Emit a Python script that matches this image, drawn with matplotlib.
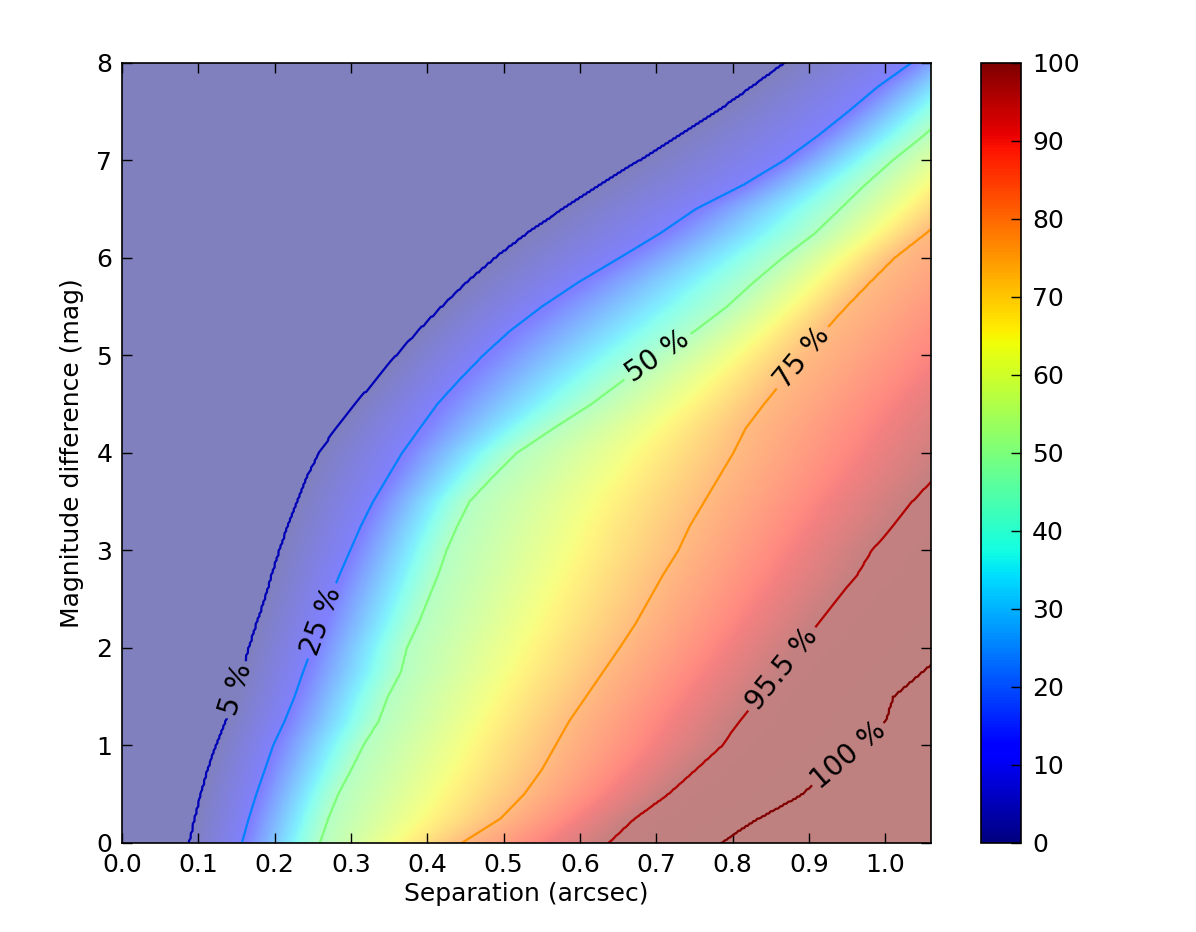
import numpy as np
import matplotlib
matplotlib.use("Agg")
import matplotlib.pyplot as plt

# ---- data -------------------------------------------------------------
# magnitude rows (mag) at which the contour positions (separation, arcsec) were read
mag_rows = [0.0, 0.25, 0.5, 0.75, 1.0, 1.25, 1.5, 1.75, 2.0, 2.25, 2.5, 2.75, 3.0, 3.25, 3.5, 3.75,
            4.0, 4.25, 4.5, 4.75, 5.0, 5.25, 5.5, 5.75, 6.0, 6.25, 6.5, 6.75, 7.0, 7.25, 7.5, 7.75, 8.0]

sep_5 = [0.089, 0.096, 0.104, 0.113, 0.124, 0.137, 0.148, 0.158, 0.167, 0.177, 0.188, 0.197, 0.207, 0.218,
         0.230, 0.243, 0.259, 0.281, 0.306, 0.334, 0.360, 0.389, 0.420, 0.453, 0.490, 0.532, 0.579, 0.628,
         0.680, 0.730, 0.781, 0.826, 0.870]
sep_25 = [0.157, 0.166, 0.176, 0.187, 0.198, 0.213, 0.226, 0.237, 0.249, 0.261, 0.272, 0.285, 0.299, 0.313,
          0.329, 0.348, 0.367, 0.390, 0.413, 0.442, 0.473, 0.508, 0.550, 0.598, 0.652, 0.705, 0.752, 0.815,
          0.868, 0.912, 0.952, 0.990, 1.035]
sep_50 = [0.259, 0.270, 0.283, 0.300, 0.316, 0.336, 0.348, 0.365, 0.373, 0.388, 0.401, 0.414, 0.425, 0.439,
          0.455, 0.485, 0.517, 0.565, 0.615, 0.658, 0.704, 0.751, 0.793, 0.828, 0.866, 0.908, 0.941, 0.974,
          1.010, 1.050, 1.085, 1.120, 1.155]
sep_75 = [0.445, 0.496, 0.527, 0.550, 0.568, 0.586, 0.608, 0.630, 0.652, 0.673, 0.691, 0.709, 0.729, 0.744,
          0.763, 0.782, 0.801, 0.817, 0.841, 0.867, 0.894, 0.920, 0.949, 0.980, 1.012, 1.053, 1.090, 1.125,
          1.160, 1.195, 1.230, 1.265, 1.300]
sep_955 = [0.637, 0.671, 0.715, 0.751, 0.786, 0.809, 0.835, 0.861, 0.886, 0.912, 0.937, 0.963, 0.982, 1.010,
           1.035, 1.065, 1.090, 1.115, 1.140, 1.170, 1.200, 1.230, 1.260, 1.290, 1.320, 1.350, 1.380, 1.410,
           1.440, 1.470, 1.500, 1.530, 1.560]
sep_100 = [0.783, 0.832, 0.890, 0.925, 0.967, 1.000, 1.010, 1.047, 1.085, 1.120, 1.160, 1.195, 1.230, 1.265,
           1.300, 1.335, 1.370, 1.405, 1.440, 1.475, 1.510, 1.545, 1.580, 1.615, 1.650, 1.685, 1.720, 1.755,
           1.790, 1.825, 1.860, 1.895, 1.930]

contour_levels = [5, 25, 50, 75, 95.5, 100]
image_values = [0, 11, 48, 78, 99, 100]

x_ticks = [0.0, 0.1, 0.2, 0.3, 0.4, 0.5, 0.6, 0.7, 0.8, 0.9, 1.0]
y_ticks = [0, 1, 2, 3, 4, 5, 6, 7, 8]
cbar_ticks = [0, 10, 20, 30, 40, 50, 60, 70, 80, 90, 100]
x_max = 1.06
y_max = 8.0

# ---- build the gridded field from the read contour positions -----------
mag_grid = np.linspace(0, y_max, 321)
sep_grid = np.linspace(0, x_max, 425)
curves = [np.interp(mag_grid, mag_rows, c) for c in (sep_5, sep_25, sep_50, sep_75, sep_955, sep_100)]

Zc = np.zeros((mag_grid.size, sep_grid.size))
Zi = np.zeros_like(Zc)
for i in range(mag_grid.size):
    xp = [-0.5] + [c[i] for c in curves] + [2.5]
    Zc[i] = np.interp(sep_grid, xp, [0] + contour_levels + [102])
    Zi[i] = np.interp(sep_grid, xp, [0] + image_values + [100])

# ---- figure --------------------------------------------------------------
plt.rcParams['font.family'] = ['DejaVu Sans']
fig = plt.figure(figsize=(11.96, 9.32), dpi=100)
ax = fig.add_axes([0.1020, 0.0955, 0.6764, 0.8372])
cax = fig.add_axes([0.8202, 0.0955, 0.0334, 0.8372])

ax.imshow(Zi, origin='lower', extent=[0, x_max, 0, y_max], aspect='auto',
          cmap='jet', vmin=0, vmax=100, alpha=0.5, interpolation='bilinear')
cs = ax.contour(sep_grid, mag_grid, Zc, levels=contour_levels, cmap='jet',
                vmin=0, vmax=100, linewidths=1.6)
label_pos = [(0.151, 1.57), (0.257, 2.29), (0.705, 4.95), (0.888, 5.0), (0.862, 1.8), (0.947, 0.95)]
ax.clabel(cs, fmt=lambda v: f"{v:g} %", colors='k', fontsize=20, manual=label_pos, inline=True)

ax.set_xlim(0, x_max)
ax.set_ylim(0, y_max)
ax.set_xticks(x_ticks)
ax.set_yticks(y_ticks)
ax.set_xticklabels([f"{t:.1f}" for t in x_ticks])
ax.set_yticklabels([str(t) for t in y_ticks])
ax.tick_params(direction='in', top=True, right=True, length=7, width=1,
               labelsize=18, pad=7, colors='k')
ax.set_xlabel("Separation (arcsec)", fontsize=18, labelpad=4)
ax.set_ylabel("Magnitude difference (mag)", fontsize=18, labelpad=9)
for s in ax.spines.values():
    s.set_linewidth(1.2)

sm = matplotlib.cm.ScalarMappable(norm=matplotlib.colors.Normalize(0, 100), cmap='jet')
cb = fig.colorbar(sm, cax=cax, ticks=cbar_ticks)
cb.ax.tick_params(direction='in', length=7, width=1, labelsize=18, pad=8)
cb.outline.set_linewidth(1.2)

fig.savefig("out.png", dpi=100)
